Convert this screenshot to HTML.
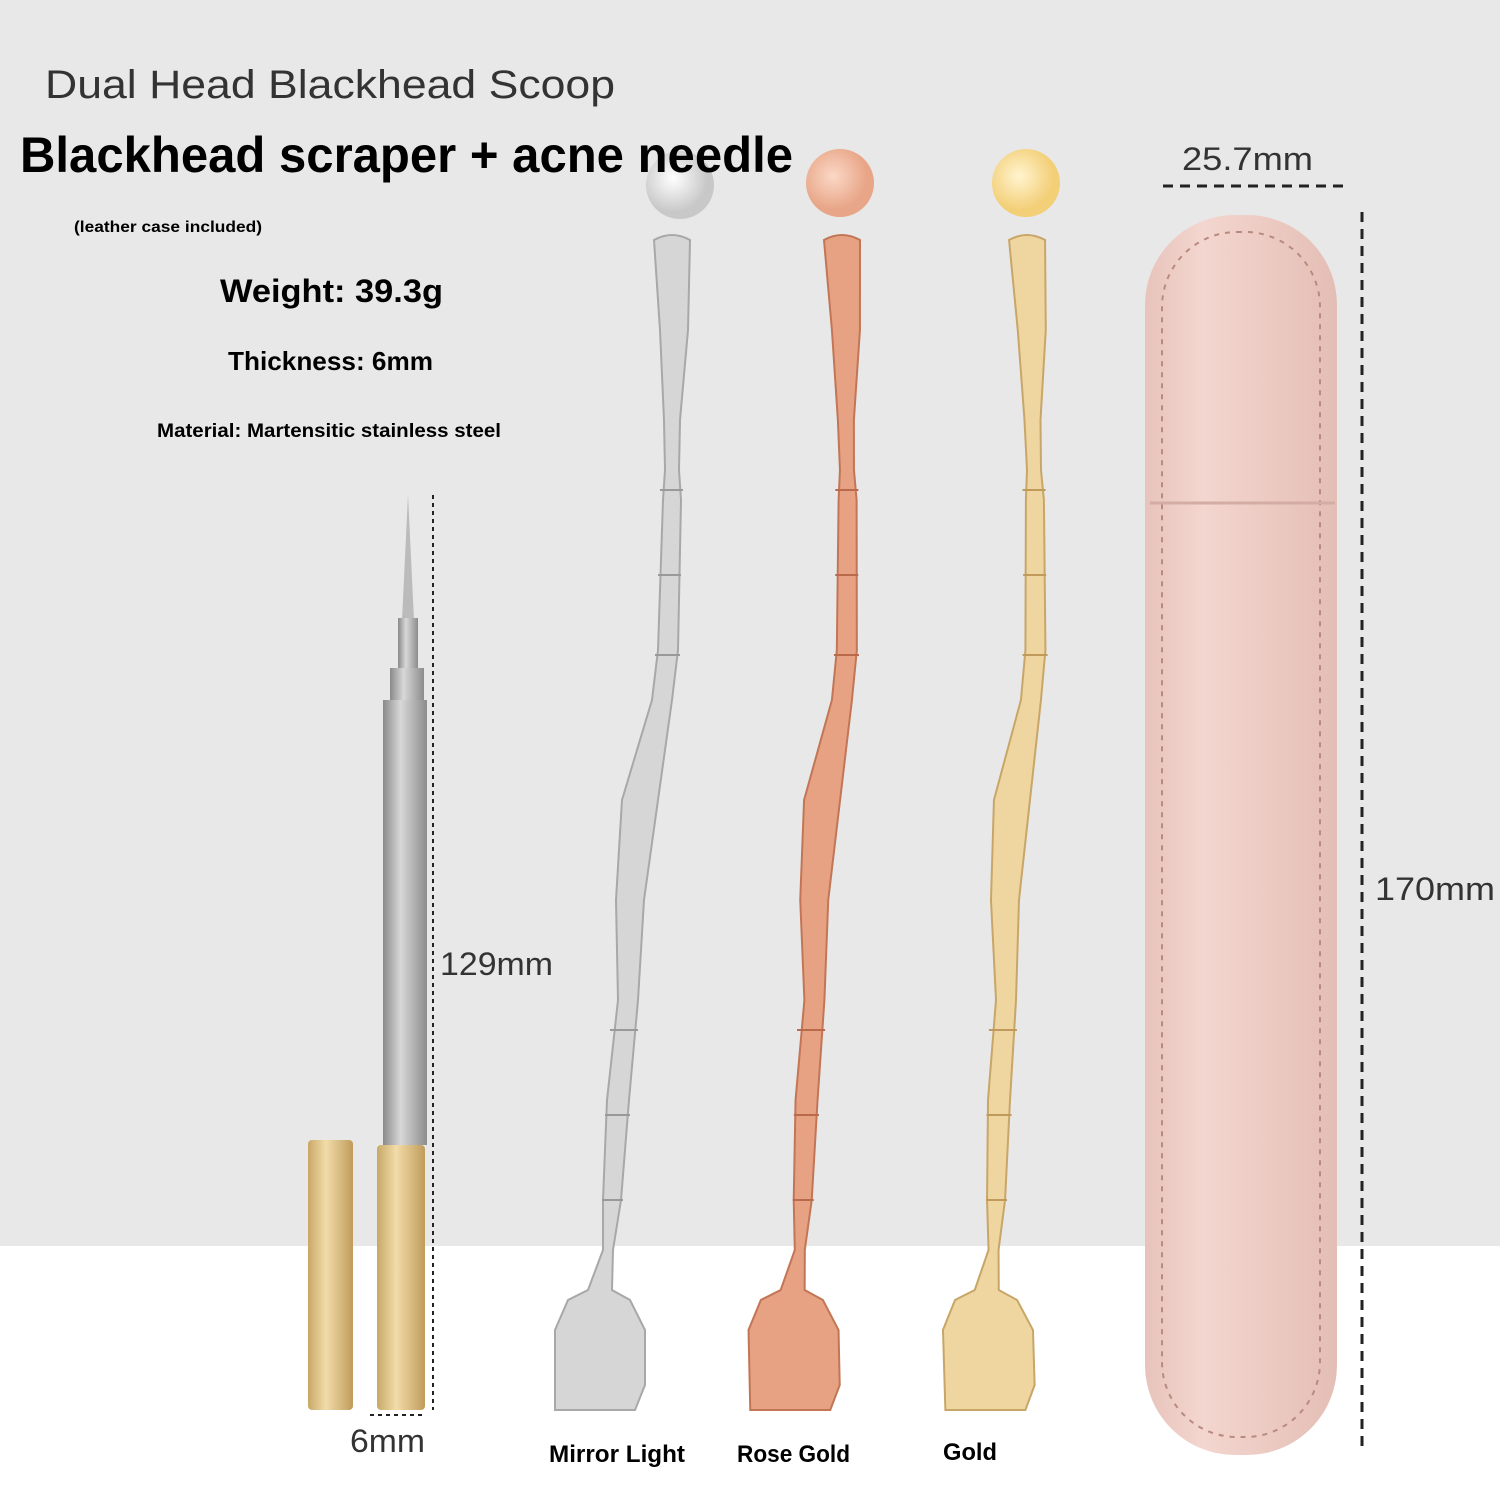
<!DOCTYPE html>
<html><head><meta charset="utf-8"><style>
html,body{margin:0;padding:0;width:1500px;height:1500px;overflow:hidden;background:#fff}
svg{display:block}
</style></head><body>
<svg width="1500" height="1500" viewBox="0 0 1500 1500" xmlns="http://www.w3.org/2000/svg" font-family="Liberation Sans, sans-serif">
<defs>
<linearGradient id="gcap" x1="0" x2="1"><stop offset="0" stop-color="#c8a868"/><stop offset=".4" stop-color="#f2dca8"/><stop offset="1" stop-color="#c09c5c"/></linearGradient>
<linearGradient id="nshaft" x1="0" x2="1"><stop offset="0" stop-color="#8a8a8a"/><stop offset=".4" stop-color="#d8d8d8"/><stop offset="1" stop-color="#8c8c8c"/></linearGradient>
<radialGradient id="cs" cx=".4" cy=".4"><stop offset="0" stop-color="#fff"/><stop offset="1" stop-color="#c8c8c8"/></radialGradient>
<radialGradient id="cr" cx=".4" cy=".4"><stop offset="0" stop-color="#fbd8c6"/><stop offset="1" stop-color="#e8a587"/></radialGradient>
<radialGradient id="cg" cx=".4" cy=".4"><stop offset="0" stop-color="#fff4cf"/><stop offset="1" stop-color="#f3cf78"/></radialGradient>
<linearGradient id="case" x1="0" x2="1"><stop offset="0" stop-color="#e7c3bb"/><stop offset=".3" stop-color="#f3d6cf"/><stop offset="1" stop-color="#e4beb5"/></linearGradient>
<path id="tool" d="M654,240 Q672,230 690,240 L688,330 L680,420 L679,470 L681,500 L678,650 L672,700 L658,800 L644,900 L638,1000 L629,1100 L621,1200 L613,1250 L612,1290 L630,1300 L645,1330 L645,1385 L635,1410 L555,1410 L555,1330 L568,1300 L588,1290 L603,1250 L603,1200 L607,1100 L618,1000 L616,900 L622,800 L652,700 L658,650 L663,500 L665,470 L664,420 L660,330 Z"/>
<g id="bands" stroke-width="2" fill="none">
<line x1="660" y1="490" x2="683" y2="490"/><line x1="658" y1="575" x2="681" y2="575"/><line x1="655" y1="655" x2="680" y2="655"/>
<line x1="610" y1="1030" x2="638" y2="1030"/><line x1="605" y1="1115" x2="630" y2="1115"/><line x1="602" y1="1200" x2="623" y2="1200"/>
</g>
</defs>
<rect width="1500" height="1246" fill="#e8e8e8"/>
<circle cx="680" cy="185" r="34" fill="url(#cs)"/>
<circle cx="840" cy="183" r="34" fill="url(#cr)"/>
<circle cx="1026" cy="183" r="34" fill="url(#cg)"/>
<text x="45" y="98" font-size="40" fill="#333" textLength="570" lengthAdjust="spacingAndGlyphs">Dual Head Blackhead Scoop</text>
<text x="20" y="172" font-size="50" font-weight="bold" fill="#000" textLength="773" lengthAdjust="spacingAndGlyphs">Blackhead scraper + acne needle</text>
<text x="74" y="232" font-size="16" font-weight="bold" fill="#000" textLength="188" lengthAdjust="spacingAndGlyphs">(leather case included)</text>
<text x="220" y="302" font-size="32" font-weight="bold" fill="#000" textLength="223" lengthAdjust="spacingAndGlyphs">Weight: 39.3g</text>
<text x="228" y="370" font-size="26" font-weight="bold" fill="#000" textLength="205" lengthAdjust="spacingAndGlyphs">Thickness: 6mm</text>
<text x="157" y="437" font-size="19" font-weight="bold" fill="#000" textLength="344" lengthAdjust="spacingAndGlyphs">Material: Martensitic stainless steel</text>
<!-- needle -->
<path d="M408 495 L414 620 L402 620 Z" fill="#bbb"/>
<rect x="398" y="618" width="20" height="50" fill="url(#nshaft)"/>
<rect x="390" y="668" width="34" height="34" fill="url(#nshaft)"/>
<rect x="383" y="700" width="44" height="445" fill="url(#nshaft)"/>
<rect x="377" y="1145" width="48" height="265" rx="4" fill="url(#gcap)"/>
<rect x="308" y="1140" width="45" height="270" rx="4" fill="url(#gcap)"/>
<line x1="433" y1="495" x2="433" y2="1410" stroke="#222" stroke-width="2" stroke-dasharray="4 4"/>
<line x1="370" y1="1415" x2="422" y2="1415" stroke="#222" stroke-width="2" stroke-dasharray="4 4"/>
<text x="440" y="975" font-size="32" fill="#333" textLength="113" lengthAdjust="spacingAndGlyphs">129mm</text>
<text x="350" y="1452" font-size="32" fill="#333" textLength="75" lengthAdjust="spacingAndGlyphs">6mm</text>
<!-- scrapers -->
<g>
<use href="#tool" fill="#d6d6d6" stroke="#a8a8a8" stroke-width="2"/>
<use href="#bands" stroke="#999"/>
</g>
<g transform="matrix(1,0,0.0216,1,164.8,0)">
<use href="#tool" fill="#e7a283" stroke="#c27656" stroke-width="2"/>
<use href="#bands" stroke="#b86a4a"/>
</g>
<g transform="matrix(1,0,0.0302,1,347.8,0)">
<use href="#tool" fill="#efd6a0" stroke="#c8a668" stroke-width="2"/>
<use href="#bands" stroke="#c09a5a"/>
</g>
<text x="549" y="1462" font-size="24" font-weight="bold" fill="#000" textLength="136" lengthAdjust="spacingAndGlyphs">Mirror Light</text>
<text x="737" y="1462" font-size="24" font-weight="bold" fill="#000" textLength="113" lengthAdjust="spacingAndGlyphs">Rose Gold</text>
<text x="943" y="1460" font-size="24" font-weight="bold" fill="#000" textLength="54" lengthAdjust="spacingAndGlyphs">Gold</text>
<!-- case -->
<rect x="1145" y="215" width="192" height="1240" rx="90" fill="url(#case)"/>
<rect x="1162" y="232" width="158" height="1205" rx="75" fill="none" stroke="#b98a80" stroke-width="2" stroke-dasharray="5 6"/>
<path d="M1150 503 L1335 503" stroke="#d3aca3" stroke-width="3"/>
<line x1="1163" y1="186" x2="1347" y2="186" stroke="#222" stroke-width="3" stroke-dasharray="10 7"/>
<text x="1182" y="170" font-size="32" fill="#333" textLength="131" lengthAdjust="spacingAndGlyphs">25.7mm</text>
<line x1="1362" y1="212" x2="1362" y2="1452" stroke="#222" stroke-width="3" stroke-dasharray="10 7"/>
<text x="1375" y="900" font-size="32" fill="#333" textLength="120" lengthAdjust="spacingAndGlyphs">170mm</text>
</svg>
</body></html>
